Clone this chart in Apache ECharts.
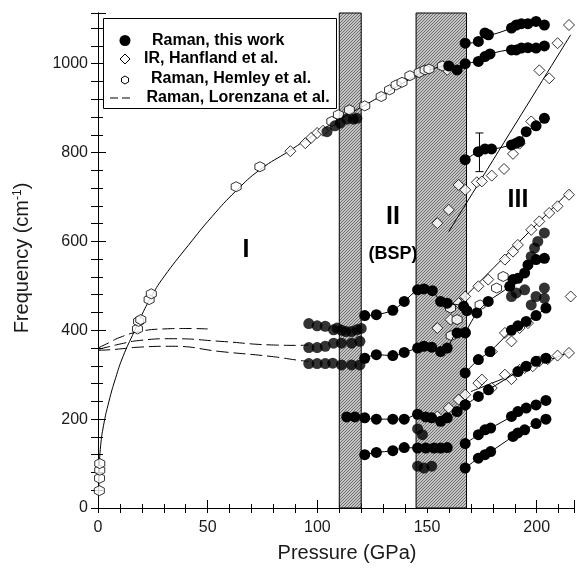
<!DOCTYPE html>
<html>
<head>
<meta charset="utf-8">
<script src="https://cdn.jsdelivr.net/npm/echarts@6/dist/echarts.min.js"></script>
<style>
  html, body { margin: 0; padding: 0; background: #fff; }
  #chart { width: 577px; height: 571px; }
</style>
</head>
<body>
<div id="chart"></div>
<script>
// --- data: [pressure GPa, frequency cm-1] ---
var xMax = 217, yMax = 1114;
var bands = [[110, 120], [145, 168]];

// Raman, this work (filled circles)
var rTop3 = [[167.4,1046],[173.4,1050],[176.4,1069],[178,1065],[188.5,1080],[190.7,1087],[193,1090],[196,1090],[199.7,1095],[203.5,1087]];
var rSec3 = [[159.9,995],[163.7,986],[167.4,1000],[173.4,1005],[176.4,1016],[178.7,1022],[188.5,1031],[190.7,1031],[193,1035],[196,1036],[199.7,1035],[203.5,1040]];
var rVib1 = [[104.4,847],[108,860],[110.4,866],[113.4,875],[116.4,875],[118,877]];
var r800 = [[167.4,784],[173.4,802],[176.4,808],[179.4,808],[188.5,817],[190.7,821],[192.2,825],[195.2,847],[199.7,860],[203.5,877]];
var rRowA = [[96.1,415],[99.9,410],[103.6,409],[107.4,401],[109,405],[111.1,400],[113,397],[115.6,397],[118,401],[120,404]];
var rBsp1 = [[121.6,433],[126.9,435],[134.4,445],[139.6,465],[145.7,491],[148.6,493],[152.4,489],[156.2,465],[159.2,461],[166.7,454],[168.2,444]];
var rRowB = [[96.1,361],[99.9,361],[103.6,364],[107.4,371],[111,371],[115.6,371],[119.4,375]];
var rRowC = [[96.1,325],[99.9,325],[103.6,325],[107,326],[111,322],[115.6,322],[119.4,322]];
var rBsp2 = [[121.6,337],[126.9,345],[134.4,343],[139.6,350],[145.7,360],[148.6,364],[152.1,362],[156.2,352],[159.2,360],[163.7,394],[167.4,395]];
var rBsp3 = [[113.4,205],[117.1,205],[121.6,203],[126.9,200],[134.4,200],[139.6,200],[145.7,211],[149.4,205],[152.1,203],[156.2,195],[159.2,203],[163.7,217],[167.4,232]];
var rBsp4 = [[121.6,120],[126.9,125],[134.4,129],[139.6,136],[145.7,135],[149.4,135],[153.2,135],[156.2,135],[159.2,136]];
var rLoose = [[145.7,94],[148.6,90],[152.1,94],[145.7,178],[147.9,165]];
var rIII1 = [[167.4,90],[173.4,112],[176.4,120],[179,127],[189.2,161],[191.4,169],[194.5,176],[199.7,190],[204.2,200]];
var rIII2 = [[167.4,145],[173.4,165],[176.4,176],[179,180],[188.5,206],[191.4,217],[195.2,225],[199.7,232],[204.2,242]];
var rIII3 = [[167.4,232],[173.4,251],[178,266],[191.4,307],[195.2,319],[199.7,330],[204.2,337]];
var rIII4 = [[167.4,304],[173.4,334],[178.7,352],[188.5,400],[191.4,410],[195.2,420],[199.7,433],[204.2,450]];
var rIII5 = [[167.4,394],[172.7,439],[177.9,465],[187.7,499],[189.2,514],[191.4,517],[194.5,529],[196,547],[199.7,559],[203.5,562]];
var rIII6 = [[188.5,476],[190.7,484],[194.5,491],[199.7,476],[203.5,495],[203.5,472],[197.5,457]];
var rIII7 = [[197.5,566],[199,585],[200.5,600],[203.5,619]];
var errBar = [[173.9, 757, 844]];

// IR, Hanfland et al. (open diamonds)
var irVib = [[87.7,803],[94.5,821],[97.2,833],[99.9,844],[102.6,849],[159.2,986]];
var irSteep = [[154.7,641],[159.9,671],[164.4,727],[167.4,716],[172.7,733],[175,735],[179.5,748],[185.1,763],[189.2,797],[192.2,820],[197.5,870],[201.2,985],[205.7,967],[209.5,1046],[214.7,1087]];
var irMid = [[164.4,461],[167.4,476],[173.4,499],[177.9,514],[185.5,559],[189.2,577],[191.4,592],[197.5,626],[201.2,645],[205.7,664],[209.5,679],[214.7,705]];
var irLow = [[154.7,206],[159.9,225],[164.4,244],[167.4,255],[173.4,281],[175,289],[179.5,270],[185.5,300],[188.5,290],[192.2,311],[194.5,315],[198.2,319],[201.2,330],[205,335],[209.5,343],[214.7,349]];
var irOther = [[154.7,405],[160.7,424],[179.5,352],[185.5,394],[188.5,375],[192.2,405],[196,416],[215.5,476]];

// Raman, Hemley et al. (open hexagons)
var hemley = [[0.6,39],[0.7,67],[0.8,85],[0.8,100],[18,403],[18.5,420],[19.5,424],[23.3,469],[24.3,482],[63,723],[73.8,768],[106.6,870],[109.6,885],[114.6,896],[121.6,905],[129.1,926],[132.9,941],[135.9,952],[138.6,958],[142.2,973],[146.4,980],[149.1,986],[150.9,988],[157,995],[161,388],[160.7,450],[163.7,424],[174.2,457],[181.7,495],[184.7,521]];

// Raman, Lorenzana et al. (dashed)
var lorUp = [[0,360],[5,372],[10,384],[18.8,397],[30,403],[40,404],[50,403]];
var lorMid = [[0,357],[5,363],[10,369],[18.8,377],[33.8,381],[56,375],[79,367],[92,366],[96,367]];
var lorLow = [[0,355],[5,356],[10,358],[18.8,362],[33.8,364],[56,352],[79,341],[92,332],[96,330]];

// fitted curves (solid)
var fitVib = [[0.3,30],[0.6,90],[1.2,140],[2.5,185],[5,240],[8,292],[11.4,341],[16.5,397],[20,435],[24.8,480],[30,520],[41,590],[52,656],[63,714],[74,762],[87,803],[100,845],[110,874],[120,902],[130,930],[140,959],[150,984],[160,997]];
var fitSteep = [[159.9,622],[215.5,1065]];
var fitMid = [[164.4,461],[215.5,716]];
var fitLow = [[170,262],[215.5,352]];

var hexPath = 'path://M5,0 L9.33,2.5 L9.33,7.5 L5,10 L0.67,7.5 L0.67,2.5 Z';

function hatchCanvas() {
  var c = document.createElement('canvas');
  c.width = 3; c.height = 3;
  var g = c.getContext('2d');
  g.fillStyle = '#c4c4c4';
  g.fillRect(0, 0, 3, 3);
  g.strokeStyle = '#5a5a5a';
  g.lineWidth = 0.8;
  g.beginPath();
  g.moveTo(0, 3); g.lineTo(3, 0);
  g.moveTo(-1, 1); g.lineTo(1, -1);
  g.moveTo(2, 4); g.lineTo(4, 2);
  g.stroke();
  return c;
}

function ramanLine(d) {
  return { type: 'line', data: d, symbol: 'circle', symbolSize: 11, smooth: 0.3,
    itemStyle: { color: '#000' }, lineStyle: { color: '#000', width: 1 }, z: 6, silent: true };
}
function ramanDots(d) {
  return { type: 'scatter', data: d, symbol: 'circle', symbolSize: 11,
    itemStyle: { color: '#000' }, z: 6, silent: true };
}
function openMarks(d, sym, size) {
  return { type: 'scatter', data: d, symbol: sym, symbolSize: size,
    itemStyle: { color: '#fff', borderColor: '#000', borderWidth: 1 }, z: 5, silent: true };
}
function curve(d, dash) {
  return { type: 'line', data: d, showSymbol: false, smooth: true,
    lineStyle: { color: '#000', width: 1, type: dash ? [12, 5] : 'solid' }, z: 4, silent: true };
}

var chart = echarts.init(document.getElementById('chart'));

var axisBase = { type: 'value', min: 0, max: xMax, interval: 10, splitLine: { show: false } };
var yBase = { type: 'value', min: 0, max: yMax, interval: 40, splitLine: { show: false } };
var labelFont = 'Liberation Sans, Arial, sans-serif';

var option = {
  animation: false,
  backgroundColor: '#fff',
  grid: { left: 98, right: -3, top: 13, bottom: 63 },
  xAxis: [
    Object.assign({}, axisBase, {
      position: 'bottom',
      axisLine: { show: true, lineStyle: { color: '#000' } },
      axisTick: { inside: true, length: 4, lineStyle: { color: '#000' } },
      axisLabel: { fontSize: 16, color: '#1a1a1a', margin: 12, fontFamily: labelFont,
        formatter: function (v) { return v % 50 === 0 ? v : ''; } }
    }),
    Object.assign({}, axisBase, {
      position: 'bottom', interval: 50,
      axisLine: { show: false },
      axisTick: { inside: true, length: 8, lineStyle: { color: '#000' } },
      axisLabel: { show: false }
    }),
    Object.assign({}, axisBase, {
      position: 'top',
      axisLine: { show: true, lineStyle: { color: '#000' } },
      axisTick: { inside: true, length: 5, lineStyle: { color: '#000' } },
      axisLabel: { show: false }
    })
  ],
  yAxis: [
    Object.assign({}, yBase, {
      position: 'left',
      axisLine: { show: true, lineStyle: { color: '#000' } },
      axisTick: { inside: true, length: 5, lineStyle: { color: '#000' } },
      axisLabel: { fontSize: 16, color: '#1a1a1a', margin: 10, fontFamily: labelFont,
        formatter: function (v) { return v % 200 === 0 ? v : ''; } }
    }),
    Object.assign({}, yBase, {
      position: 'left', interval: 200,
      axisLine: { show: false },
      axisTick: { inside: true, length: 8, lineStyle: { color: '#000' } },
      axisLabel: { show: false }
    }),
    Object.assign({}, yBase, {
      position: 'right',
      axisLine: { show: true, lineStyle: { color: '#000' } },
      axisTick: { inside: true, length: 7, lineStyle: { color: '#000' } },
      axisLabel: { show: false }
    })
  ],
  graphic: [
    { type: 'text', x: 347, y: 553, style: { text: 'Pressure (GPa)', font: '20px "Liberation Sans", Arial, sans-serif',
      fill: '#1a1a1a', textAlign: 'center', textVerticalAlign: 'middle' } },
    { type: 'text', x: 22, y: 258, rotation: Math.PI / 2,
      style: { text: 'Frequency (cm{s|-1})', rich: { s: { fontSize: 12, padding: [0, 0, 9, 0] } },
        font: '20px "Liberation Sans", Arial, sans-serif', fill: '#1a1a1a', textAlign: 'center', textVerticalAlign: 'middle' } },
    { type: 'text', x: 246, y: 250, style: { text: 'I', font: 'bold 25px "Liberation Sans", Arial, sans-serif', fill: '#000', textAlign: 'center', textVerticalAlign: 'middle' } },
    { type: 'text', x: 393, y: 217, style: { text: 'II', font: 'bold 25px "Liberation Sans", Arial, sans-serif', fill: '#000', textAlign: 'center', textVerticalAlign: 'middle' } },
    { type: 'text', x: 393, y: 254, style: { text: '(BSP)', font: 'bold 18px "Liberation Sans", Arial, sans-serif', fill: '#000', textAlign: 'center', textVerticalAlign: 'middle' } },
    { type: 'text', x: 518, y: 200, style: { text: 'III', font: 'bold 25px "Liberation Sans", Arial, sans-serif', fill: '#000', textAlign: 'center', textVerticalAlign: 'middle' } },
    // legend box
    { type: 'rect', shape: { x: 103.5, y: 18.5, width: 233, height: 90 }, style: { fill: '#fff', stroke: '#000', lineWidth: 1 }, z: 50 },
    { type: 'circle', shape: { cx: 125, cy: 40.5, r: 5.5 }, style: { fill: '#000' }, z: 51 },
    { type: 'polygon', shape: { points: [[125, 54], [130, 59], [125, 64], [120, 59]] }, style: { fill: '#fff', stroke: '#000', lineWidth: 1 }, z: 51 },
    { type: 'polygon', shape: { points: [[125, 76], [128.5, 78], [128.5, 82], [125, 84], [121.5, 82], [121.5, 78]] }, style: { fill: '#fff', stroke: '#000', lineWidth: 1 }, z: 51 },
    { type: 'line', shape: { x1: 110, y1: 98, x2: 133, y2: 98 }, style: { stroke: '#000', lineWidth: 1, lineDash: [8, 4] }, z: 51 },
    { type: 'text', x: 152, y: 41, z: 51, style: { text: 'Raman, this work', font: 'bold 16px "Liberation Sans", Arial, sans-serif', fill: '#000', textVerticalAlign: 'middle' } },
    { type: 'text', x: 144, y: 59, z: 51, style: { text: 'IR, Hanfland et al.', font: 'bold 16px "Liberation Sans", Arial, sans-serif', fill: '#000', textVerticalAlign: 'middle' } },
    { type: 'text', x: 151, y: 79, z: 51, style: { text: 'Raman, Hemley et al.', font: 'bold 16px "Liberation Sans", Arial, sans-serif', fill: '#000', textVerticalAlign: 'middle' } },
    { type: 'text', x: 146.5, y: 98, z: 51, style: { text: 'Raman, Lorenzana et al.', font: 'bold 16px "Liberation Sans", Arial, sans-serif', fill: '#000', textVerticalAlign: 'middle' } }
  ],
  series: [
    Object.assign(curve(fitVib, false), {
      markArea: {
        silent: true,
        itemStyle: { color: { image: hatchCanvas(), repeat: 'repeat' }, borderColor: '#000', borderWidth: 1 },
        data: bands.map(function (b) { return [{ xAxis: b[0] }, { xAxis: b[1] }]; })
      }
    }),
    curve(fitSteep, false),
    curve(fitMid, false),
    curve(fitLow, false),
    curve(lorUp, true),
    curve(lorMid, true),
    curve(lorLow, true),
    openMarks(irVib, 'diamond', 11),
    openMarks(irSteep, 'diamond', 11),
    openMarks(irMid, 'diamond', 11),
    openMarks(irLow, 'diamond', 11),
    openMarks(irOther, 'diamond', 11),
    openMarks(hemley, hexPath, 10),
    ramanLine(rTop3), ramanLine(rSec3), ramanDots(rVib1), ramanLine(r800),
    ramanDots(rRowA), ramanLine(rBsp1), ramanDots(rRowB), ramanDots(rRowC),
    ramanLine(rBsp2), ramanLine(rBsp3), ramanLine(rBsp4), ramanDots(rLoose),
    ramanLine(rIII1), ramanLine(rIII2), ramanLine(rIII3), ramanLine(rIII4),
    ramanLine(rIII5), ramanDots(rIII6), ramanDots(rIII7),
    {
      type: 'custom', data: errBar, z: 7, silent: true,
      renderItem: function (params, api) {
        var top = api.coord([api.value(0), api.value(2)]);
        var bot = api.coord([api.value(0), api.value(1)]);
        var w = 4;
        var st = { stroke: '#000', lineWidth: 1 };
        return { type: 'group', children: [
          { type: 'line', shape: { x1: top[0], y1: top[1], x2: bot[0], y2: bot[1] }, style: st },
          { type: 'line', shape: { x1: top[0] - w, y1: top[1], x2: top[0] + w, y2: top[1] }, style: st },
          { type: 'line', shape: { x1: bot[0] - w, y1: bot[1], x2: bot[0] + w, y2: bot[1] }, style: st }
        ] };
      }
    }
  ]
};
chart.setOption(option);
</script>
</body>
</html>
